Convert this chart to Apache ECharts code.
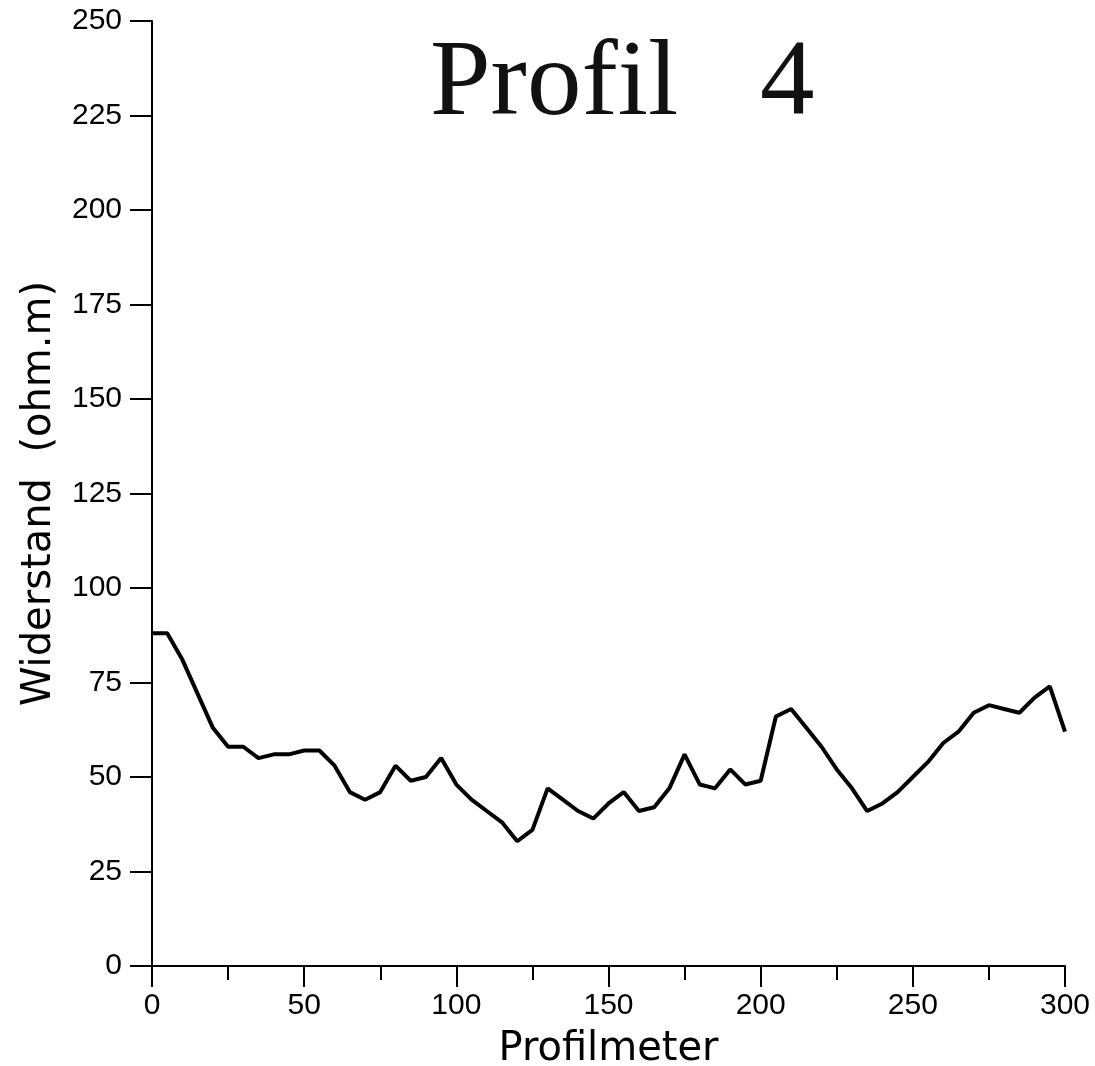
<!DOCTYPE html>
<html>
<head>
<meta charset="utf-8">
<script src="https://cdn.jsdelivr.net/npm/echarts@6/dist/echarts.min.js"></script>
<style>
html,body{margin:0;padding:0;background:#fff;}
#chart{width:1095px;height:1066px;}
</style>
</head>
<body>
<div id="chart"></div>
<script>
const titleText = 'Profil   4';
const xAxisName = 'Profilmeter';
const yAxisName = 'Widerstand  (ohm.m)';
const profilmeter = [0,5,10,15,20,25,30,35,40,45,50,55,60,65,70,75,80,85,90,95,100,105,110,115,120,125,130,135,140,145,150,155,160,165,170,175,180,185,190,195,200,205,210,215,220,225,230,235,240,245,250,255,260,265,270,275,280,285,290,295,300];
const widerstand = [88,88,81,72,63,58,58,55,56,56,57,57,53,46,44,46,53,49,50,55,48,44,41,38,33,36,47,44,41,39,43,46,41,42,47,56,48,47,52,48,49,66,68,63,58,52,47,41,43,46,50,54,59,62,67,69,68,67,71,74,62];
const xMin = 0, xMax = 300, xStep = 50;
const yMin = 0, yMax = 250, yStep = 25;

const chart = echarts.init(document.getElementById('chart'));
const axisColor = '#000';
chart.setOption({
  animation: false,
  backgroundColor: '#fff',
  title: {
    text: titleText,
    left: 430,
    top: 31,
    padding: 0,
    textStyle: {fontFamily: 'Liberation Serif', fontSize: 109, fontWeight: 'normal', color: '#111'}
  },
  grid: {left: 152, right: 30, top: 21, bottom: 100, containLabel: false, outerBoundsMode: 'none'},
  xAxis: {
    type: 'value', min: xMin, max: xMax, interval: xStep,
    name: xAxisName, nameLocation: 'middle', nameGap: 64,
    nameTextStyle: {fontFamily: 'DejaVu Sans', fontSize: 40, color: '#000'},
    axisLine: {lineStyle: {color: axisColor, width: 2}},
    axisTick: {length: 21, lineStyle: {color: axisColor, width: 2}},
    minorTick: {show: true, splitNumber: 2, length: 14, lineStyle: {color: axisColor, width: 2}},
    axisLabel: {margin: 25, fontFamily: 'Liberation Sans', fontSize: 30, color: '#000'},
    splitLine: {show: false}
  },
  yAxis: {
    type: 'value', min: yMin, max: yMax, interval: yStep,
    name: yAxisName, nameLocation: 'middle', nameGap: 92, nameRotate: 90,
    nameTextStyle: {fontFamily: 'DejaVu Sans', fontSize: 40, color: '#000'},
    axisLine: {show: true, lineStyle: {color: axisColor, width: 2}},
    axisTick: {show: true, length: 22, lineStyle: {color: axisColor, width: 2}},
    axisLabel: {margin: 30, fontFamily: 'Liberation Sans', fontSize: 30, color: '#000'},
    splitLine: {show: false}
  },
  series: [{
    type: 'line',
    data: profilmeter.map((x, i) => [x, widerstand[i]]),
    showSymbol: false,
    lineStyle: {color: '#000', width: 4},
    itemStyle: {color: '#000'}
  }]
});
</script>
</body>
</html>
